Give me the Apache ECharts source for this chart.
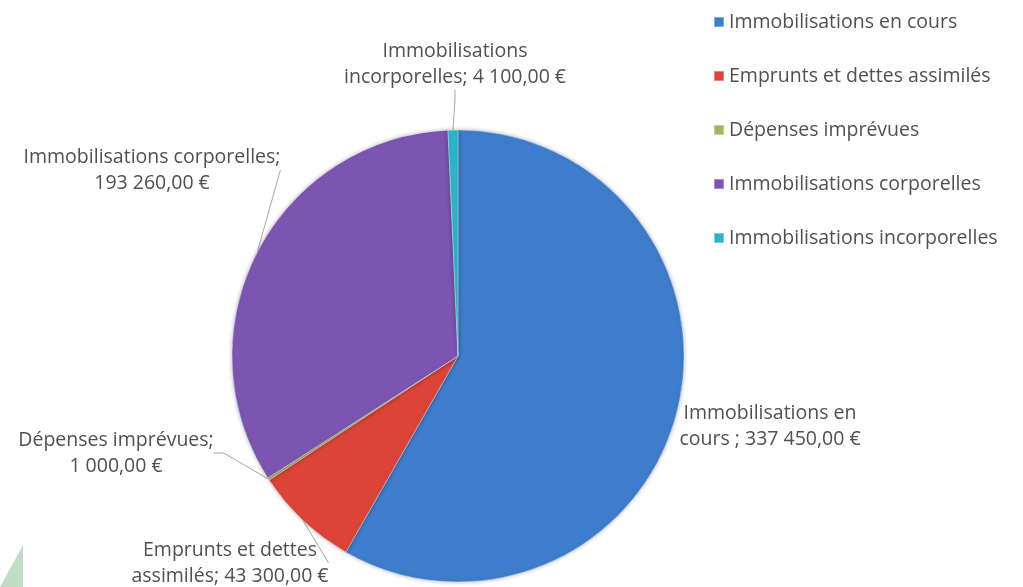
<!DOCTYPE html>
<html>
<head>
<meta charset="utf-8">
<script src="https://cdn.jsdelivr.net/npm/echarts@6/dist/echarts.min.js"></script>
<style>
  html,body{margin:0;padding:0;background:#fff;}
  #main{width:1023px;height:587px;}
</style>
</head>
<body>
<div id="main"></div>
<script>
  // données du graphique
  var categories = [
    'Immobilisations en cours',
    'Emprunts et dettes assimilés',
    'Dépenses imprévues',
    'Immobilisations corporelles',
    'Immobilisations incorporelles'
  ];
  var values = [337450, 43300, 1000, 193260, 4100];
  var labelTexts = [
    'Immobilisations en\ncours ; 337 450,00 €',
    'Emprunts et dettes\nassimilés; 43 300,00 €',
    'Dépenses imprévues;\n1 000,00 €',
    'Immobilisations corporelles;\n193 260,00 €',
    'Immobilisations\nincorporelles; 4 100,00 €'
  ];
  var colors = ['#3e7ccc', '#dc4438', '#9bbb59', '#7b55b1', '#2bb5cc'];

  // position des étiquettes (comme dans Excel)
  var labelPos = [[770, 426], [230, 563], [116, 453], [152, 170], [455, 64]];

  var myChart = echarts.init(document.getElementById('main'));
  var txt = '#505050';

  myChart.setOption({
    animation: false,
    color: colors,
    textStyle: {fontFamily: 'Open Sans'},
    legend: {
      orient: 'vertical',
      left: 708,
      top: 7,
      itemWidth: 10,
      itemHeight: 10,
      itemGap: 34,
      icon: 'rect',
      textStyle: {color: txt, fontSize: 19.5, lineHeight: 20, fontFamily: 'Open Sans'},
      data: categories
    },
    graphic: [{
      type: 'polygon',
      shape: {points: [[0, 587], [23, 545], [23, 587]]},
      style: {fill: '#c3dcc6'}
    }],
    series: [{
      type: 'pie',
      center: [458, 356],
      radius: [0, 226],
      startAngle: 90,
      clockwise: true,
      avoidLabelOverlap: false,
      itemStyle: {
        borderColor: 'rgba(255,255,255,0.35)',
        borderWidth: 1,
        shadowBlur: 4,
        shadowColor: 'rgba(0,0,0,0.3)'
      },
      label: {
        show: true,
        position: 'outside',
        color: txt,
        fontSize: 19.5,
        lineHeight: 26,
        align: 'center',
        formatter: function (p) { return labelTexts[p.dataIndex]; }
      },
      labelLine: {
        show: true,
        length: 10,
        length2: 10,
        lineStyle: {color: '#a6a6a6', width: 1}
      },
      labelLayout: function (p) {
        var pos = labelPos[p.dataIndex];
        return {x: pos[0], y: pos[1], align: 'center', verticalAlign: 'middle'};
      },
      data: categories.map(function (c, i) {
        return {
          name: c,
          value: values[i],
          labelLine: {show: i !== 0}
        };
      })
    }]
  });
</script>
</body>
</html>
